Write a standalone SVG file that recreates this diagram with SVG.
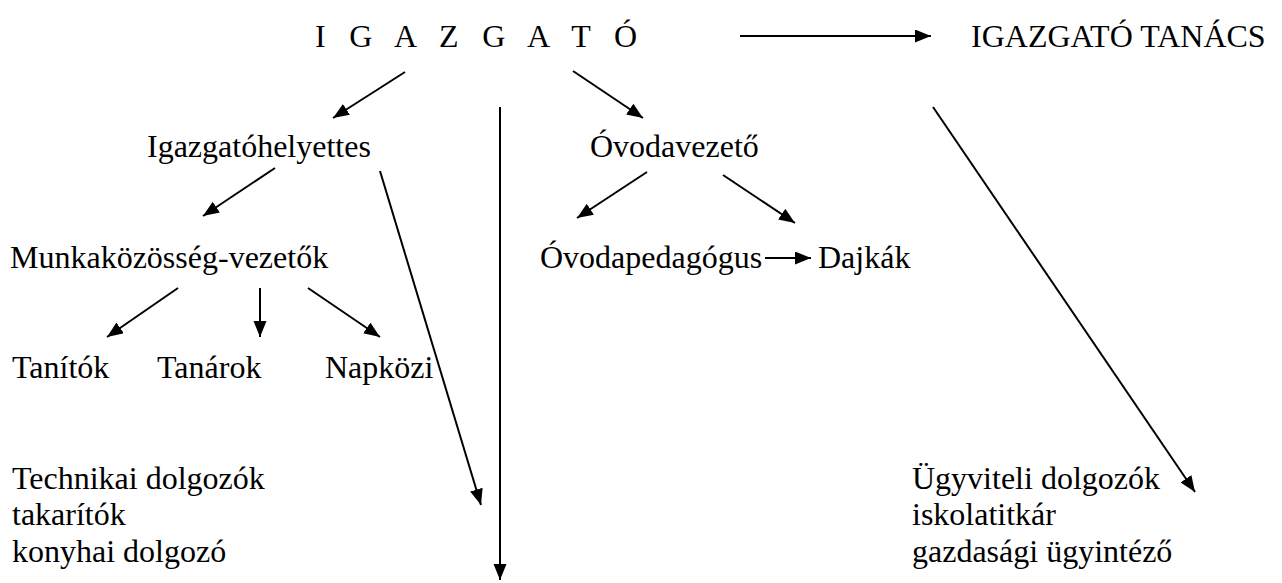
<svg xmlns="http://www.w3.org/2000/svg" width="1282" height="583" viewBox="0 0 1282 583">
<style>
  text { font-family: "Liberation Serif", "Times New Roman", serif; font-size: 32px; fill: #000; }
  .c { stroke: #000; stroke-width: 2; fill: none; }
  .a { marker-end: url(#ah); }
</style>
<defs>
  <marker id="ah" markerUnits="userSpaceOnUse" markerWidth="18" markerHeight="14" refX="16" refY="6.5" orient="auto">
    <path d="M0,0 L16,6.5 L0,13 Z" fill="#000"/>
  </marker>
</defs>
<rect width="1282" height="583" fill="#fff"/>
<g id="connectors">
  <line class="c a" x1="740" y1="36" x2="931" y2="36"/>
  <line class="c a" x1="405" y1="72" x2="333" y2="118"/>
  <line class="c a" x1="573" y1="71" x2="643" y2="118"/>
  <line class="c a" x1="500" y1="107" x2="500" y2="580"/>
  <line class="c a" x1="933" y1="107" x2="1195" y2="492"/>
  <line class="c a" x1="275" y1="168" x2="203" y2="216"/>
  <line class="c a" x1="380" y1="171" x2="481" y2="505"/>
  <line class="c a" x1="647" y1="172" x2="577" y2="218"/>
  <line class="c a" x1="723" y1="175" x2="795" y2="223"/>
  <line class="c a" x1="765" y1="258" x2="811" y2="258"/>
  <line class="c a" x1="178" y1="288" x2="107" y2="337"/>
  <line class="c a" x1="260" y1="288" x2="260" y2="337"/>
  <line class="c a" x1="308" y1="288" x2="380" y2="337"/>
</g>
<g id="igazgato"><text x="315" y="47" textLength="322" lengthAdjust="spacing">I G A Z G A T Ó</text></g>
<g id="igazgato-tanacs"><text x="971" y="47">IGAZGATÓ TANÁCS</text></g>
<g id="igazgatohelyettes"><text x="147" y="157.4">Igazgatóhelyettes</text></g>
<g id="ovodavezeto"><text x="590" y="157.4">Óvodavezető</text></g>
<g id="munkakozosseg"><text x="10" y="267.8">Munkaközösség-vezetők</text></g>
<g id="ovodapedagogus"><text x="540" y="267.8">Óvodapedagógus</text></g>
<g id="dajkak"><text x="818" y="267.8">Dajkák</text></g>
<g id="tanitok"><text x="12" y="378.2">Tanítók</text></g>
<g id="tanarok"><text x="157" y="378.2">Tanárok</text></g>
<g id="napkozi"><text x="325" y="378.2">Napközi</text></g>
<g id="technikai">
  <text x="12" y="488.6">Technikai dolgozók</text>
  <text x="12" y="525.4">takarítók</text>
  <text x="12" y="562.2">konyhai dolgozó</text>
</g>
<g id="ugyviteli">
  <text x="912" y="488.6">Ügyviteli dolgozók</text>
  <text x="912" y="525.4">iskolatitkár</text>
  <text x="912" y="562.2">gazdasági ügyintéző</text>
</g>
</svg>
